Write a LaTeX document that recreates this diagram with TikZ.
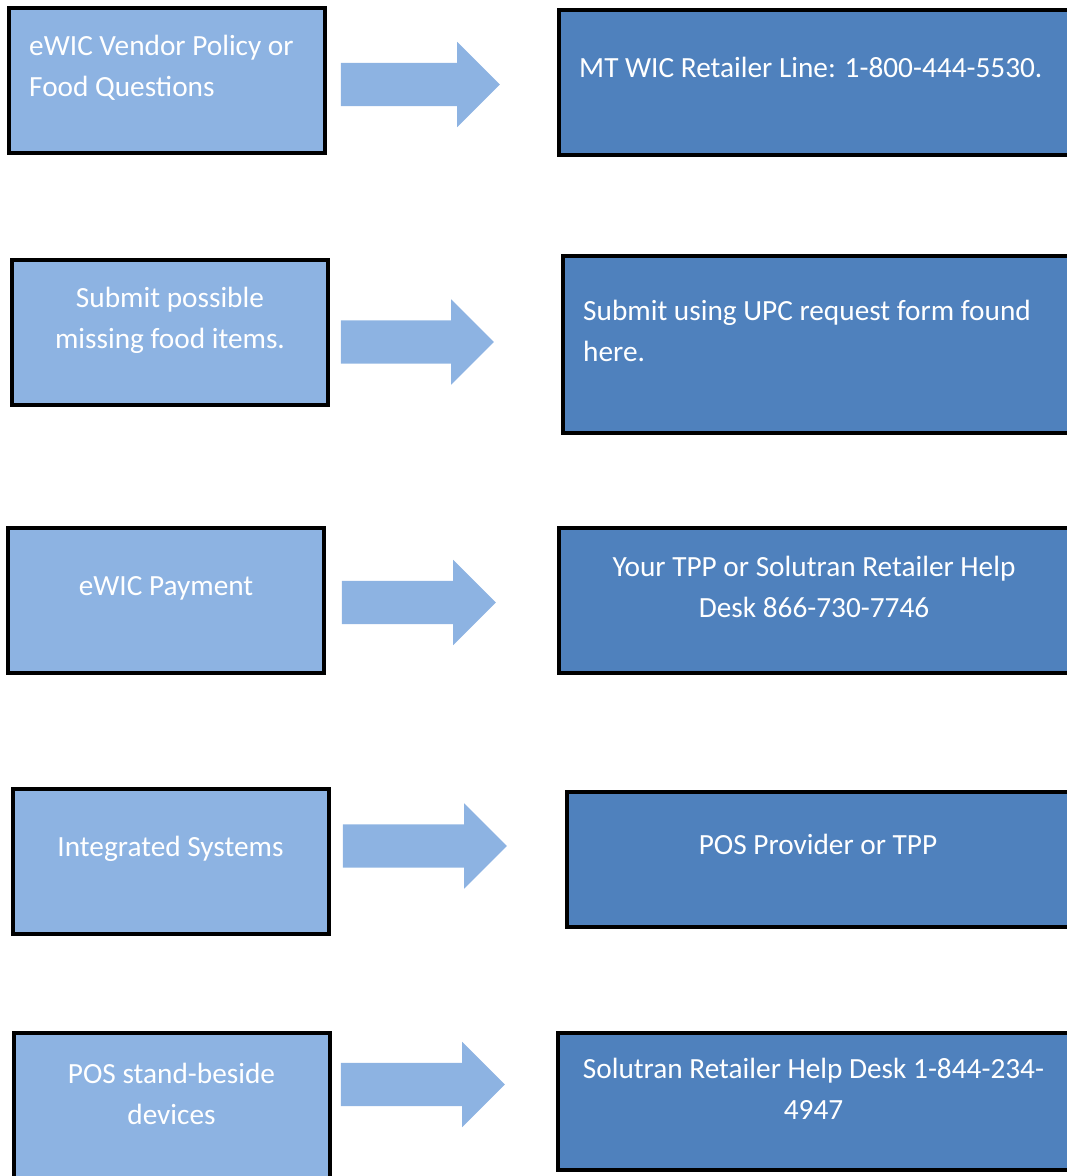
\documentclass[tikz,border=0pt]{standalone}
\usepackage{fontspec}
\setmainfont{Carlito}
\usetikzlibrary{positioning,shapes.arrows}

\definecolor{askblue}{HTML}{8DB3E2}
\definecolor{replyblue}{HTML}{4F81BD}

\begin{document}
\begin{tikzpicture}[
  x=1pt, y=-1pt,
  block/.style={rectangle, draw=black, line width=4pt, inner sep=0pt},
  ask/.style={block, fill=askblue, minimum width=316pt, minimum height=145pt},
  reply/.style={block, fill=replyblue},
  pointer/.style={single arrow, fill=askblue, inner xsep=0pt, inner ysep=21.5pt,
    minimum width=85pt, single arrow head extend=21pt, single arrow tip angle=90},
  words/.style={text=white, inner sep=0pt, font=\fontsize{29.3}{41}\selectfont},
  node distance=2cm
]
\useasboundingbox (0,0) rectangle (1067,1176);

% questions on the left
\node[ask] (q1) at (167,80.5) {};
\node[ask] (q2) at (170,332.5) {};
\node[ask] (q3) at (166,600.5) {};
\node[ask] (q4) at (170.5,861) {};
\node[ask] (q5) at (171.5,1105.5) {};

% block arrows
\node[pointer, minimum height=159pt, right of=q1, node distance=242.5pt, yshift=-4pt] (p1) {};
\node[pointer, minimum height=153pt, right of=q2, node distance=236.5pt, yshift=-9.5pt] (p2) {};
\node[pointer, minimum height=154pt, right of=q3, node distance=242pt, yshift=-2pt] (p3) {};
\node[pointer, minimum height=164pt, right of=q4, node distance=243.5pt, yshift=15pt] (p4) {};
\node[pointer, minimum height=164pt, right of=q5, node distance=240.5pt, yshift=21pt] (p5) {};

% who to contact
\node[reply, minimum width=510pt, minimum height=145pt, right of=p1, node distance=404.5pt, yshift=2pt] (a1) {};
\node[reply, minimum width=506pt, minimum height=177pt, right of=p2, node distance=409.5pt, yshift=-2.5pt] (a2) {};
\node[reply, minimum width=510pt, minimum height=145pt, right of=p3, node distance=406pt, yshift=2pt] (a3) {};
\node[reply, minimum width=502pt, minimum height=135pt, right of=p4, node distance=404pt, yshift=-13.5pt] (a4) {};
\node[reply, minimum width=511pt, minimum height=137pt, right of=p5, node distance=401.5pt, yshift=-17pt] (a5) {};

% texts
\node[words, align=left, anchor=west] (q1text) at ([xshift=22pt,yshift=13pt]q1.west) {eWIC Vendor Policy or\\Food Questions};
\node[words, align=center] (q2text) at ([yshift=12pt]q2.center) {Submit possible\\missing food items.};
\node[words, align=center] (q3text) at ([yshift=12pt]q3.center) {eWIC Payment};
\node[words, align=center] (q4text) at ([yshift=12pt]q4.center) {Integrated Systems};
\node[words, align=center] (q5text) at ([yshift=12pt]q5.center) {POS stand-beside\\devices};

\node[words, align=left, anchor=west] (a1text) at ([xshift=22pt,yshift=15pt]a1.west) {MT WIC Retailer Line: 1-800-444-5530.};
\node[words, align=left, anchor=west] (a2text) at ([xshift=22pt,yshift=14pt]a2.west) {Submit using UPC request form found\\here.};
\node[words, align=center] (a3text) at ([yshift=14pt]a3.center) {Your TPP or Solutran Retailer Help\\Desk 866-730-7746};
\node[words, align=center] (a4text) at ([yshift=15pt]a4.center) {POS Provider or TPP};
\node[words, align=center] (a5text) at ([yshift=13pt]a5.center) {Solutran Retailer Help Desk 1-844-234-\\4947};
\end{tikzpicture}
\end{document}
